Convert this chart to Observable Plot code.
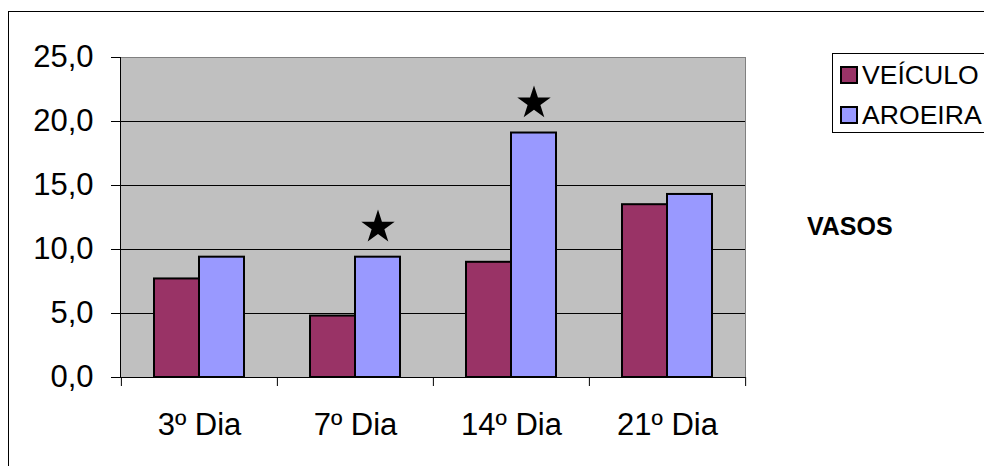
<!DOCTYPE html>
<html>
<head>
<meta charset="utf-8">
<script src="https://cdn.jsdelivr.net/npm/d3@7"></script>
<script src="https://cdn.jsdelivr.net/npm/@observablehq/plot@0.6"></script>
<style>
  html, body { margin: 0; padding: 0; background: #fff; }
  #wrap { position: relative; width: 984px; height: 466px; overflow: hidden; font-family: "Liberation Sans", Arial, sans-serif; }
  #chart { position: absolute; left: 0; top: 0; }
  #frame { position: absolute; left: 8px; top: 11px; width: 1100px; height: 600px; border: 1px solid #000; box-sizing: border-box; pointer-events: none; }
  #legend { position: absolute; left: 832px; top: 53px; width: 220px; height: 80px; border: 1px solid #000; box-sizing: border-box; background: #fff; }
  .row { position: absolute; left: 7px; height: 26px; display: flex; align-items: center; font-size: 26.6px; color: #000; white-space: nowrap; }
  .sw { width: 14px; height: 14px; border: 2px solid #000; margin-right: 4px; flex: none; }
  #side { position: absolute; left: 807px; top: 212px; font-size: 25px; font-weight: bold; color: #000; }
</style>
</head>
<body>
<div id="wrap">
  <div id="chart"></div>
  <div id="frame"></div>
  <div id="legend"></div>
  <div id="side"></div>
</div>
<script>
const days = ["3º Dia", "7º Dia", "14º Dia", "21º Dia"];
const seriesNames = ["VEÍCULO", "AROEIRA"];
const seriesColors = ["#993366", "#9999FF"];
const veiculo = [7.7, 4.8, 9.0, 13.5];
const aroeira = [9.4, 9.4, 19.1, 14.3];
const yTicks = [0, 5, 10, 15, 20, 25];
const gridTicks = [5, 10, 15, 20];
const starDays = ["7º Dia", "14º Dia"];
const sideLabel = "VASOS";

const dataV = days.map((d, i) => ({day: d, series: seriesNames[0], value: veiculo[i]}));
const dataA = days.map((d, i) => ({day: d, series: seriesNames[1], value: aroeira[i]}));
const stars = dataA.filter(d => starDays.includes(d.day));

const W = 984, H = 466, mL = 120, mR = 239, mT = 57, mB = 89;
const step = (W - mL - mR) / days.length;
const padIn = 0.424;
const half = step * (1 - padIn) / 2;

const fmt = d => d.toFixed(1).replace(".", ",");

const chart = Plot.plot({
  width: W, height: H,
  marginLeft: mL, marginRight: mR, marginTop: mT, marginBottom: mB,
  style: {fontFamily: "Liberation Sans, Arial, sans-serif", fontSize: "31px", color: "#000", background: "transparent", overflow: "visible"},
  x: {domain: days, paddingInner: padIn, paddingOuter: padIn / 2},
  y: {domain: [0, 25]},
  color: {domain: seriesNames, range: seriesColors},
  marks: [
    Plot.frame({fill: "#C0C0C0", stroke: "#808080"}),
    Plot.ruleY(gridTicks, {stroke: "#000", strokeWidth: 1}),
    Plot.barY(dataV, {x: "day", y: "value", fill: "series", stroke: "#000", strokeWidth: 2, insetRight: half}),
    Plot.barY(dataA, {x: "day", y: "value", fill: "series", stroke: "#000", strokeWidth: 2, insetLeft: half}),
    Plot.dot(stars, {x: "day", y: "value", symbol: "star", fill: "#000", stroke: "none", r: 10.5, dx: half / 2, dy: -30}),
    Plot.frame({anchor: "left", stroke: "#000"}),
    Plot.ruleY([0], {stroke: "#000"}),
    Plot.axisY(yTicks, {tickSize: 9, tickPadding: 18, tickFormat: fmt, fontSize: 31, stroke: "#000", label: null}),
    Plot.axisX({tickSize: 9, tickFormat: () => "", dx: -step / 2, label: null, stroke: "#000"}),
    Plot.axisX([days[days.length - 1]], {tickSize: 9, tickFormat: () => "", dx: step / 2, label: null, stroke: "#000"}),
    Plot.axisX({tickSize: 0, tickPadding: 35, fontSize: 31, label: null})
  ]
});
document.getElementById("chart").appendChild(chart);

const legend = document.getElementById("legend");
seriesNames.forEach((name, i) => {
  const row = document.createElement("div");
  row.className = "row";
  row.style.top = (8 + i * 40) + "px";
  const sw = document.createElement("div");
  sw.className = "sw";
  sw.style.background = seriesColors[i];
  row.appendChild(sw);
  row.appendChild(document.createTextNode(name));
  legend.appendChild(row);
});
document.getElementById("side").textContent = sideLabel;
</script>
</body>
</html>
